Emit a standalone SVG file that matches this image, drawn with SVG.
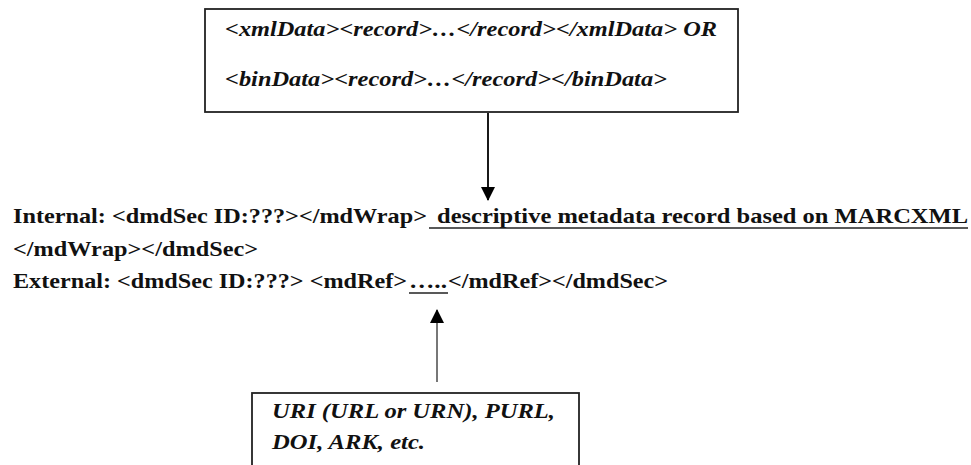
<svg xmlns="http://www.w3.org/2000/svg" width="971" height="465" viewBox="0 0 971 465">
<defs>
<style>
.box{fill:#fff;stroke:#222;stroke-width:1.8}
.it{font-weight:bold;font-style:italic;fill:#111}
.mid{font-weight:bold;font-size:21px;fill:#111}
.ul{stroke:#222;stroke-width:1.6}
</style>
<marker id="ah" viewBox="0 0 14 14" markerWidth="14" markerHeight="14" refX="13" refY="7" orient="auto" markerUnits="userSpaceOnUse">
<path d="M0,0 L14,7 L0,14 Z" fill="#000"/>
</marker>
</defs>
<rect width="971" height="465" fill="#fff"/>
<g font-family="'Liberation Serif', 'Times New Roman', serif">
<g id="node-top">
<rect class="box" x="205" y="9" width="533" height="103"/>
<text class="it" x="225" y="36" font-size="20" textLength="492" lengthAdjust="spacingAndGlyphs">&lt;xmlData&gt;&lt;record&gt;…&lt;/record&gt;&lt;/xmlData&gt; OR</text>
<text class="it" x="225" y="86" font-size="20" textLength="442" lengthAdjust="spacingAndGlyphs">&lt;binData&gt;&lt;record&gt;…&lt;/record&gt;&lt;/binData&gt;</text>
</g>
<g id="node-middle">
<text class="mid" x="13" y="223" textLength="414" lengthAdjust="spacingAndGlyphs">Internal: &lt;dmdSec ID:???&gt;&lt;/mdWrap&gt;</text>
<text class="mid" x="437" y="223" textLength="531" lengthAdjust="spacingAndGlyphs">descriptive metadata record based on MARCXML</text>
<line class="ul" x1="429" y1="228" x2="968" y2="228"/>
<text class="mid" x="13" y="256" textLength="245" lengthAdjust="spacingAndGlyphs">&lt;/mdWrap&gt;&lt;/dmdSec&gt;</text>
<text class="mid" x="13" y="288" textLength="394" lengthAdjust="spacingAndGlyphs">External: &lt;dmdSec ID:???&gt; &lt;mdRef&gt;</text>
<text class="mid" x="409" y="288" textLength="38" lengthAdjust="spacingAndGlyphs">…..</text>
<line class="ul" x1="409" y1="293" x2="448" y2="293"/>
<text class="mid" x="448" y="288" textLength="220" lengthAdjust="spacingAndGlyphs">&lt;/mdRef&gt;&lt;/dmdSec&gt;</text>
</g>
<g id="node-bottom">
<rect class="box" x="252" y="393" width="327" height="80"/>
<text class="it" x="272" y="418" font-size="20" textLength="283" lengthAdjust="spacingAndGlyphs">URI (URL or URN), PURL,</text>
<text class="it" x="272" y="449" font-size="20" textLength="153" lengthAdjust="spacingAndGlyphs">DOI, ARK, etc.</text>
</g>
</g>
<g id="connectors">
<line x1="488" y1="113" x2="488" y2="200" stroke="#000" stroke-width="1.8" marker-end="url(#ah)"/>
<line x1="437" y1="382" x2="437" y2="310" stroke="#777" stroke-width="2" marker-end="url(#ah)"/>
</g>
</svg>
